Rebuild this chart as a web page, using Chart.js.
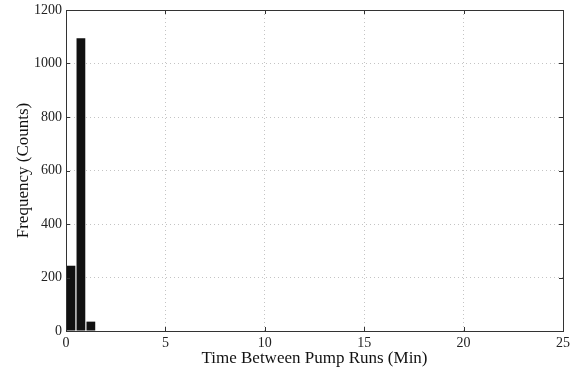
<!DOCTYPE html>
<html>
<head>
<meta charset="utf-8">
<script src="https://cdn.jsdelivr.net/npm/chart.js@4"></script>
<style>
  html, body { margin: 0; padding: 0; background: #fff; }
  #wrap { width: 575px; height: 369px; }
</style>
</head>
<body>
<div id="wrap"><canvas id="c" width="575" height="369"></canvas></div>
<script>
// Histogram of time between pump runs (bin width 0.5 min)
const binCenters = [0.25, 0.75, 1.25];
const counts = [244, 1094, 35];
const xTicks = [0, 5, 10, 15, 20, 25];
const yTicks = [0, 200, 400, 600, 800, 1000, 1200];

const serif = "'Liberation Serif', 'DejaVu Serif', serif";

// Frame around the plot area plus short inward tick marks
const framePlugin = {
  id: 'frame',
  afterDraw(chart) {
    const { ctx, chartArea: a, scales } = chart;
    ctx.save();
    ctx.strokeStyle = '#333';
    ctx.lineWidth = 1;
    ctx.strokeRect(Math.round(a.left) + 0.5, Math.round(a.top) + 0.5,
                   Math.round(a.right - a.left), Math.round(a.bottom - a.top));
    ctx.beginPath();
    xTicks.forEach(v => {
      const px = Math.round(scales.x.getPixelForValue(v)) + 0.5;
      ctx.moveTo(px, a.bottom); ctx.lineTo(px, a.bottom - 4);
      ctx.moveTo(px, a.top); ctx.lineTo(px, a.top + 4);
    });
    yTicks.forEach(v => {
      const py = Math.round(scales.y.getPixelForValue(v)) + 0.5;
      ctx.moveTo(a.left, py); ctx.lineTo(a.left + 4, py);
      ctx.moveTo(a.right, py); ctx.lineTo(a.right - 4, py);
    });
    ctx.stroke();
    ctx.restore();
  }
};

const gridColor = (ctx, lastVal) =>
  (ctx.tick && (ctx.tick.value === 0 || ctx.tick.value === lastVal)) ? 'rgba(0,0,0,0)' : '#c4c4c4';

new Chart(document.getElementById('c'), {
  type: 'bar',
  data: {
    datasets: [{
      data: binCenters.map((x, i) => ({ x: x, y: counts[i] })),
      backgroundColor: '#111111',
      borderColor: '#000000',
      borderWidth: 0,
      barPercentage: 1.0,
      categoryPercentage: 0.88
    }]
  },
  options: {
    responsive: false,
    animation: false,
    layout: { padding: { top: 10, right: 12, left: 0, bottom: 0 } },
    plugins: { legend: { display: false }, tooltip: { enabled: false } },
    scales: {
      x: {
        type: 'linear',
        min: 0, max: 25,
        offset: false,
        afterBuildTicks: s => { s.ticks = xTicks.map(v => ({ value: v })); },
        afterFit: s => { s.height = 38; s.paddingLeft = 0; s.paddingRight = 0; },
        grid: { offset: false, color: c => gridColor(c, 25), lineWidth: 1, drawTicks: false },
        border: { display: false, dash: [1, 3] },
        ticks: { color: '#222', font: { family: serif, size: 14 }, padding: 4, maxRotation: 0,
                 callback: v => String(v) },
        title: { display: true, text: 'Time Between Pump Runs (Min)', color: '#111',
                 font: { family: serif, size: 17 }, padding: { top: -6, bottom: 0 } }
      },
      y: {
        min: 0, max: 1200,
        afterBuildTicks: s => { s.ticks = yTicks.map(v => ({ value: v })); },
        afterFit: s => { s.width = 66; s.paddingTop = 0; s.paddingBottom = 0; },
        grid: { color: c => gridColor(c, 1200), lineWidth: 1, drawTicks: false },
        border: { display: false, dash: [1, 3] },
        ticks: { color: '#222', font: { family: serif, size: 14 }, padding: 4,
                 callback: v => String(v) },
        title: { display: true, text: 'Frequency (Counts)', color: '#111',
                 font: { family: serif, size: 17 }, padding: { top: 13, bottom: 0 } }
      }
    }
  },
  plugins: [framePlugin]
});
</script>
</body>
</html>
